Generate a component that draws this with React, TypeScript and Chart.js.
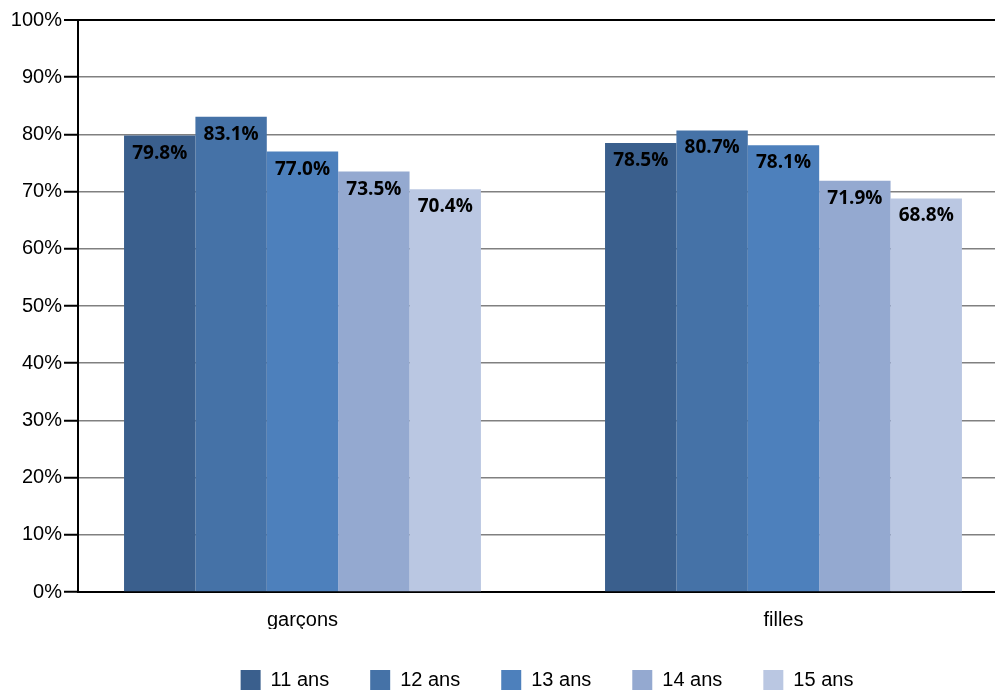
import React, { useEffect, useRef } from 'react';
import { Chart, registerables } from 'chart.js';

Chart.register(...registerables);

const categories = ['garçons', 'filles'];
const seriesNames = ['11 ans', '12 ans', '13 ans', '14 ans', '15 ans'];
const age11 = [79.8, 78.5];
const age12 = [83.1, 80.7];
const age13 = [77.0, 78.1];
const age14 = [73.5, 71.9];
const age15 = [70.4, 68.8];
const seriesColors = ['#3A5F8D', '#4572A7', '#4D80BC', '#94A9D0', '#BAC7E2'];
const yMin = 0;
const yMax = 100;
const yStep = 10;

const FONT = '"Liberation Sans", Arial, sans-serif';

const valueLabels = {
  id: 'valueLabels',
  afterDatasetsDraw(chart: any) {
    const ctx = chart.ctx;
    ctx.save();
    ctx.font = 'bold 19px "Open Sans", sans-serif';
    ctx.fillStyle = '#000';
    ctx.textAlign = 'center';
    ctx.textBaseline = 'alphabetic';
    chart.data.datasets.forEach((ds: any, i: number) => {
      chart.getDatasetMeta(i).data.forEach((bar: any, j: number) => {
        const v = ds.data[j].y;
        ctx.fillText(Number(v).toFixed(1) + '%', bar.x, bar.y + 23);
      });
    });
    ctx.restore();
  },
};

export default function App() {
  const ref = useRef<HTMLCanvasElement | null>(null);

  useEffect(() => {
    if (!ref.current) return;
    const seriesData = [age11, age12, age13, age14, age15];
    const chart = new Chart(ref.current, {
      type: 'bar',
      data: {
        datasets: seriesNames.map((name, i) => ({
          label: name,
          data: seriesData[i].map((v, k) => ({ x: k, y: v })),
          backgroundColor: seriesColors[i],
          borderWidth: 0,
          categoryPercentage: 0.742,
          barPercentage: 1,
        })),
      },
      options: {
        responsive: false,
        animation: false,
        devicePixelRatio: 1,
        layout: { padding: { left: 11, top: 20, right: 0, bottom: 0 } },
        plugins: {
          tooltip: { enabled: false },
          legend: {
            position: 'bottom',
            fullSize: false,
            labels: {
              boxWidth: 20,
              boxHeight: 20,
              padding: 41,
              color: '#000',
              font: { family: FONT, size: 20 },
            },
          },
        },
        scales: {
          x: {
            type: 'linear',
            min: -0.4667,
            max: 1.4834,
            offset: false,
            grid: { display: false, drawTicks: false },
            border: { display: true, color: '#000', width: 2 },
            ticks: {
              color: '#000',
              padding: 16,
              font: { family: FONT, size: 20 },
              callback: (v: any) => categories[v] ?? '',
            },
            afterBuildTicks: (scale: any) => {
              scale.ticks = categories.map((_, k) => ({ value: k }));
            },
            afterFit: (scale: any) => {
              scale.height = 37;
            },
          },
          y: {
            min: yMin,
            max: yMax,
            ticks: {
              stepSize: yStep,
              color: '#000',
              padding: 2,
              font: { family: FONT, size: 20 },
              callback: (v: any) => v + '%',
            },
            grid: {
              color: (c: any) => (c.tick && c.tick.value === yMax ? '#000' : '#808080'),
              lineWidth: (c: any) => (c.tick && c.tick.value === yMax ? 2 : 1.5),
              tickColor: '#000',
              tickWidth: 2,
              tickLength: 14,
            },
            border: { display: true, color: '#000', width: 2 },
            afterFit: (scale: any) => {
              scale.width = 67;
            },
          },
        },
      },
      plugins: [valueLabels],
    } as any);
    return () => chart.destroy();
  }, []);

  return (
    <div
      style={{
        position: 'absolute',
        left: 0,
        top: 0,
        width: 995,
        height: 690,
        overflow: 'hidden',
        background: '#fff',
      }}
    >
      <canvas ref={ref} width={1016} height={700} style={{ display: 'block' }} />
    </div>
  );
}
